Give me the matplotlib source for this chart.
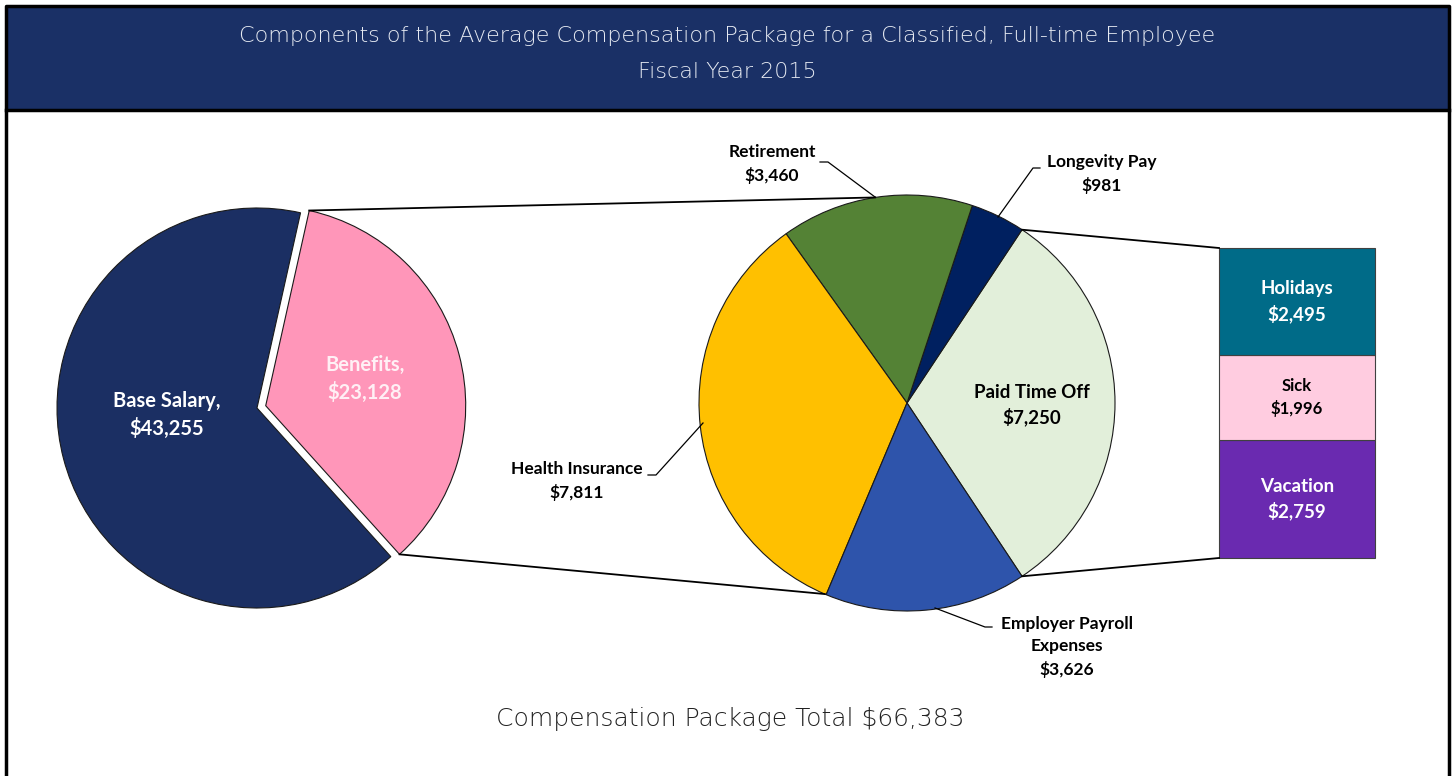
import numpy as np
import matplotlib
matplotlib.use('Agg')
import matplotlib.pyplot as plt
from matplotlib.patches import Rectangle

# data
outer_labels = ['Benefits', 'Base Salary']
outer_values = [23128, 43255]
outer_colors = ['#ff96b9', '#1b2f63']

benefit_labels = ['Paid Time Off', 'Longevity Pay', 'Retirement', 'Health Insurance', 'Employer Payroll\nExpenses']
benefit_values = [7250, 981, 3460, 7811, 3626]
benefit_colors = ['#e2efda', '#002060', '#548235', '#ffc000', '#2e54ab']

pto_labels = ['Vacation', 'Sick', 'Holidays']
pto_values = [2759, 1996, 2495]
pto_colors = ['#6a2ab0', '#ffcce0', '#006b88']
pto_text = ['white', 'black', 'white']

title = 'Components of the Average Compensation Package for a Classified, Full-time Employee\nFiscal Year 2015'
total_text = 'Compensation Package Total $66,383'

W, H = 1455, 776
def Y(y):
    # pixel row (from top) -> data y
    return H - y

fig = plt.figure(figsize=(W / 100, H / 100), dpi=100)
ax = fig.add_axes([0, 0, 1, 1])

label_font = dict(family=['Lato', 'DejaVu Sans'], fontweight='bold')
thin_font = dict(family=['DejaVu Sans'], fontweight='light')

# header band + frame
ax.add_patch(Rectangle((6, Y(110)), W - 12 - 1, 104, facecolor='#1a3066', edgecolor='none', zorder=0))
ax.plot([6, 1449], [Y(110), Y(110)], color='black', lw=2.5, zorder=1)
ax.plot([6, 6, 1449, 1449], [0, Y(6), Y(6), 0], color='black', lw=2.5, zorder=1)
ax.text(727, Y(54), title, ha='center', va='center', color='#e6eaf2', fontsize=16,
        linespacing=2.0, **thin_font)

# left pie
c1 = (257, Y(408))
r1 = 200
start1 = -48
expl = 9  # pixels
ax.pie(outer_values, colors=outer_colors, startangle=start1, counterclock=True,
       center=c1, radius=r1, explode=[expl, 0],
       wedgeprops=dict(edgecolor='#1a1a1a', linewidth=0.8))

# middle pie
c2 = (907, Y(403))
r2 = 208
span_pto = benefit_values[0] / sum(benefit_values) * 360
start2 = -span_pto / 2
ax.pie(benefit_values, colors=benefit_colors, startangle=start2, counterclock=True,
       center=c2, radius=r2, wedgeprops=dict(edgecolor='#1a1a1a', linewidth=0.8))

# stacked bar for paid time off
bar_x, bar_w = 1297, 156
bar_bottom, bar_h = Y(558), 310
scale = bar_h / sum(pto_values)
bottoms = np.concatenate([[0], np.cumsum(pto_values)[:-1]])
ax.bar([bar_x] * 3, np.array(pto_values) * scale, width=bar_w,
       bottom=bar_bottom + bottoms * scale, color=pto_colors, edgecolor='#404040', linewidth=0.8)
for lab, v, b, tc in zip(pto_labels, pto_values, bottoms, pto_text):
    fs = 12 if lab == 'Sick' else 13.5
    ax.text(bar_x, bar_bottom + (b + v / 2) * scale, f'{lab}\n${v:,}', ha='center', va='center',
            color=tc, fontsize=fs, linespacing=1.45, **label_font)

# connector lines left pie -> middle pie
ben_span = outer_values[0] / sum(outer_values) * 360
mid = np.deg2rad(start1 + ben_span / 2)
cb = (c1[0] + expl * np.cos(mid), c1[1] + expl * np.sin(mid))
def on_circle(c, r, a):
    a = np.deg2rad(a)
    return c[0] + r * np.cos(a), c[1] + r * np.sin(a)
p_top = on_circle(cb, r1, start1 + ben_span)
p_bot = on_circle(cb, r1, start1)
q_top = on_circle(c2, r2, 98.8)
q_bot = on_circle(c2, r2, 246.7)
ax.plot([p_top[0], q_top[0]], [p_top[1], q_top[1]], color='black', lw=1.3)
ax.plot([p_bot[0], q_bot[0]], [p_bot[1], q_bot[1]], color='black', lw=1.3)

# connector lines middle pie -> bar
e_top = on_circle(c2, r2, span_pto / 2)
e_bot = on_circle(c2, r2, -span_pto / 2)
bl = bar_x - bar_w / 2
ax.plot([e_top[0], bl], [e_top[1], bar_bottom + bar_h], color='black', lw=1.3)
ax.plot([e_bot[0], bl], [e_bot[1], bar_bottom], color='black', lw=1.3)

# labels inside pies
ax.text(167, Y(415), f'Base Salary,\n${outer_values[1]:,}', ha='center', va='center',
        color='white', fontsize=14.5, linespacing=1.4, **label_font)
ax.text(365, Y(379), f'Benefits,\n${outer_values[0]:,}', ha='center', va='center',
        color='#fff0f5', fontsize=14.5, linespacing=1.4, **label_font)
ax.text(1032, Y(405), f'Paid Time Off\n${benefit_values[0]:,}', ha='center', va='center',
        color='black', fontsize=13.5, linespacing=1.45, **label_font)

# outside labels with leader lines
ax.text(772, Y(164), f'Retirement\n${benefit_values[2]:,}', ha='center', va='center',
        color='black', fontsize=12.5, linespacing=1.5, **label_font)
ax.plot([875, 828, 820], [Y(197), Y(162), Y(162)], color='black', lw=0.9)

ax.text(1102, Y(174), f'Longevity Pay\n${benefit_values[1]:,}', ha='center', va='center',
        color='black', fontsize=12.5, linespacing=1.5, **label_font)
ax.plot([998, 1033, 1040], [Y(217), Y(168), Y(168)], color='black', lw=0.9)

ax.text(577, Y(481), f'Health Insurance\n${benefit_values[3]:,}', ha='center', va='center',
        color='black', fontsize=12.5, linespacing=1.5, **label_font)
ax.plot([703, 656, 648], [Y(423), Y(475), Y(475)], color='black', lw=0.9)

ax.text(1067, Y(647), f'Employer Payroll\nExpenses\n${benefit_values[4]:,}', ha='center', va='center',
        color='black', fontsize=12.5, linespacing=1.5, **label_font)
ax.plot([935, 985, 992], [Y(608), Y(627), Y(627)], color='black', lw=0.9)

# total
ax.text(730, Y(719), total_text, ha='center', va='center', color='#222222', fontsize=18,
        **thin_font)

ax.set_xlim(0, W)
ax.set_ylim(0, H)
ax.set_aspect('equal')
ax.axis('off')
fig.savefig('out.png', dpi=100, facecolor='white')
